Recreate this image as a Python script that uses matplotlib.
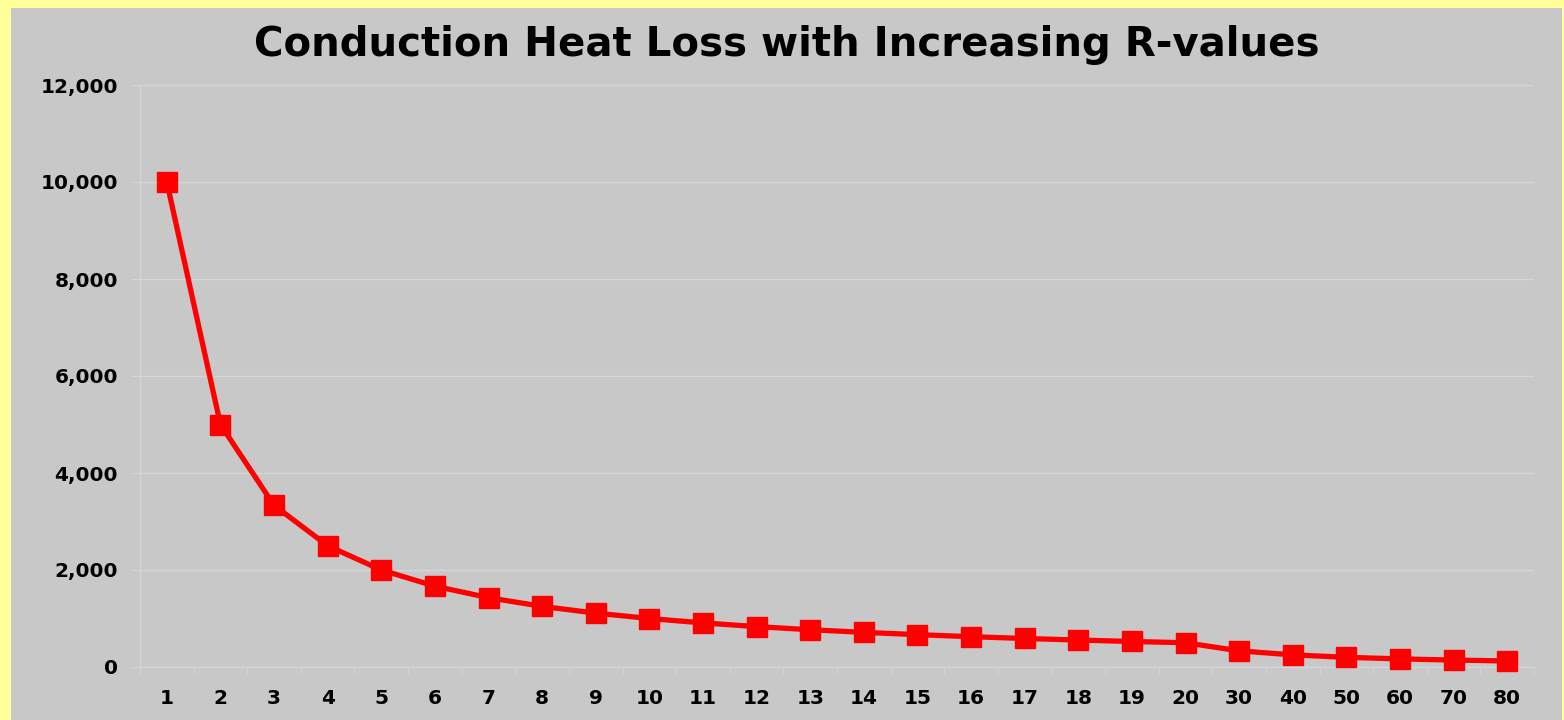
import matplotlib.pyplot as plt
import matplotlib.patches as mpatches
import numpy as np

# R-values and conduction heat loss
r_values = ['1', '2', '3', '4', '5', '6', '7', '8', '9', '10',
            '11', '12', '13', '14', '15', '16', '17', '18', '19', '20',
            '30', '40', '50', '60', '70', '80']
heat_loss = [10000, 5000, 3333, 2500, 2000, 1667, 1429, 1250, 1111, 1000,
             909, 833, 769, 714, 667, 625, 588, 556, 526, 500,
             333, 250, 200, 167, 143, 125]
y_ticks = [0, 2000, 4000, 6000, 8000, 10000, 12000]

W, H = 1564, 720
fig = plt.figure(figsize=(W / 100, H / 100), dpi=100, facecolor='#FFFF99')

# gray chart area on the yellow background
fig.patches.append(mpatches.Rectangle((11 / W, 0), (1562 - 11) / W, (H - 8) / H,
                                      transform=fig.transFigure, facecolor='#C8C8C8',
                                      edgecolor='none', zorder=-5))

ax = fig.add_axes([140 / W, 1 - 667 / H, (1534 - 140) / W, (667 - 85) / H])
ax.set_facecolor('#C8C8C8')
ax.set_zorder(2)

x = np.arange(len(r_values))
ax.plot(x, heat_loss, color='#FF0000', lw=3.8, marker='s', ms=14,
        markeredgecolor='#FF0000', clip_on=False, zorder=3)

ax.set_xlim(-0.5, len(r_values) - 0.5)
ax.set_ylim(0, 12000)
ax.set_yticks(y_ticks)
ax.set_yticklabels([f'{v:,}' for v in y_ticks])
ax.set_xticks(x)
ax.set_xticklabels(r_values)
ax.set_xticks(np.arange(len(r_values) + 1) - 0.5, minor=True)

grid_col = '#D6D6D6'
ax.grid(axis='y', color=grid_col, lw=1)
ax.set_axisbelow(True)
for s in ['top', 'right']:
    ax.spines[s].set_visible(False)
for s in ['left', 'bottom']:
    ax.spines[s].set_color(grid_col)
    ax.spines[s].set_linewidth(1)

ax.tick_params(axis='y', which='major', length=6, color=grid_col, pad=10,
               labelsize=14.5)
ax.tick_params(axis='x', which='major', length=0, pad=16, labelsize=14.5)
ax.tick_params(axis='x', which='minor', length=5, color=grid_col)
for lab in ax.get_xticklabels() + ax.get_yticklabels():
    lab.set_fontweight('bold')

fig.text(787 / W, 1 - 45 / H, 'Conduction Heat Loss with Increasing R-values',
         ha='center', va='center', fontsize=29, fontweight='heavy')

fig.savefig('out.png', dpi=100, facecolor=fig.get_facecolor())
